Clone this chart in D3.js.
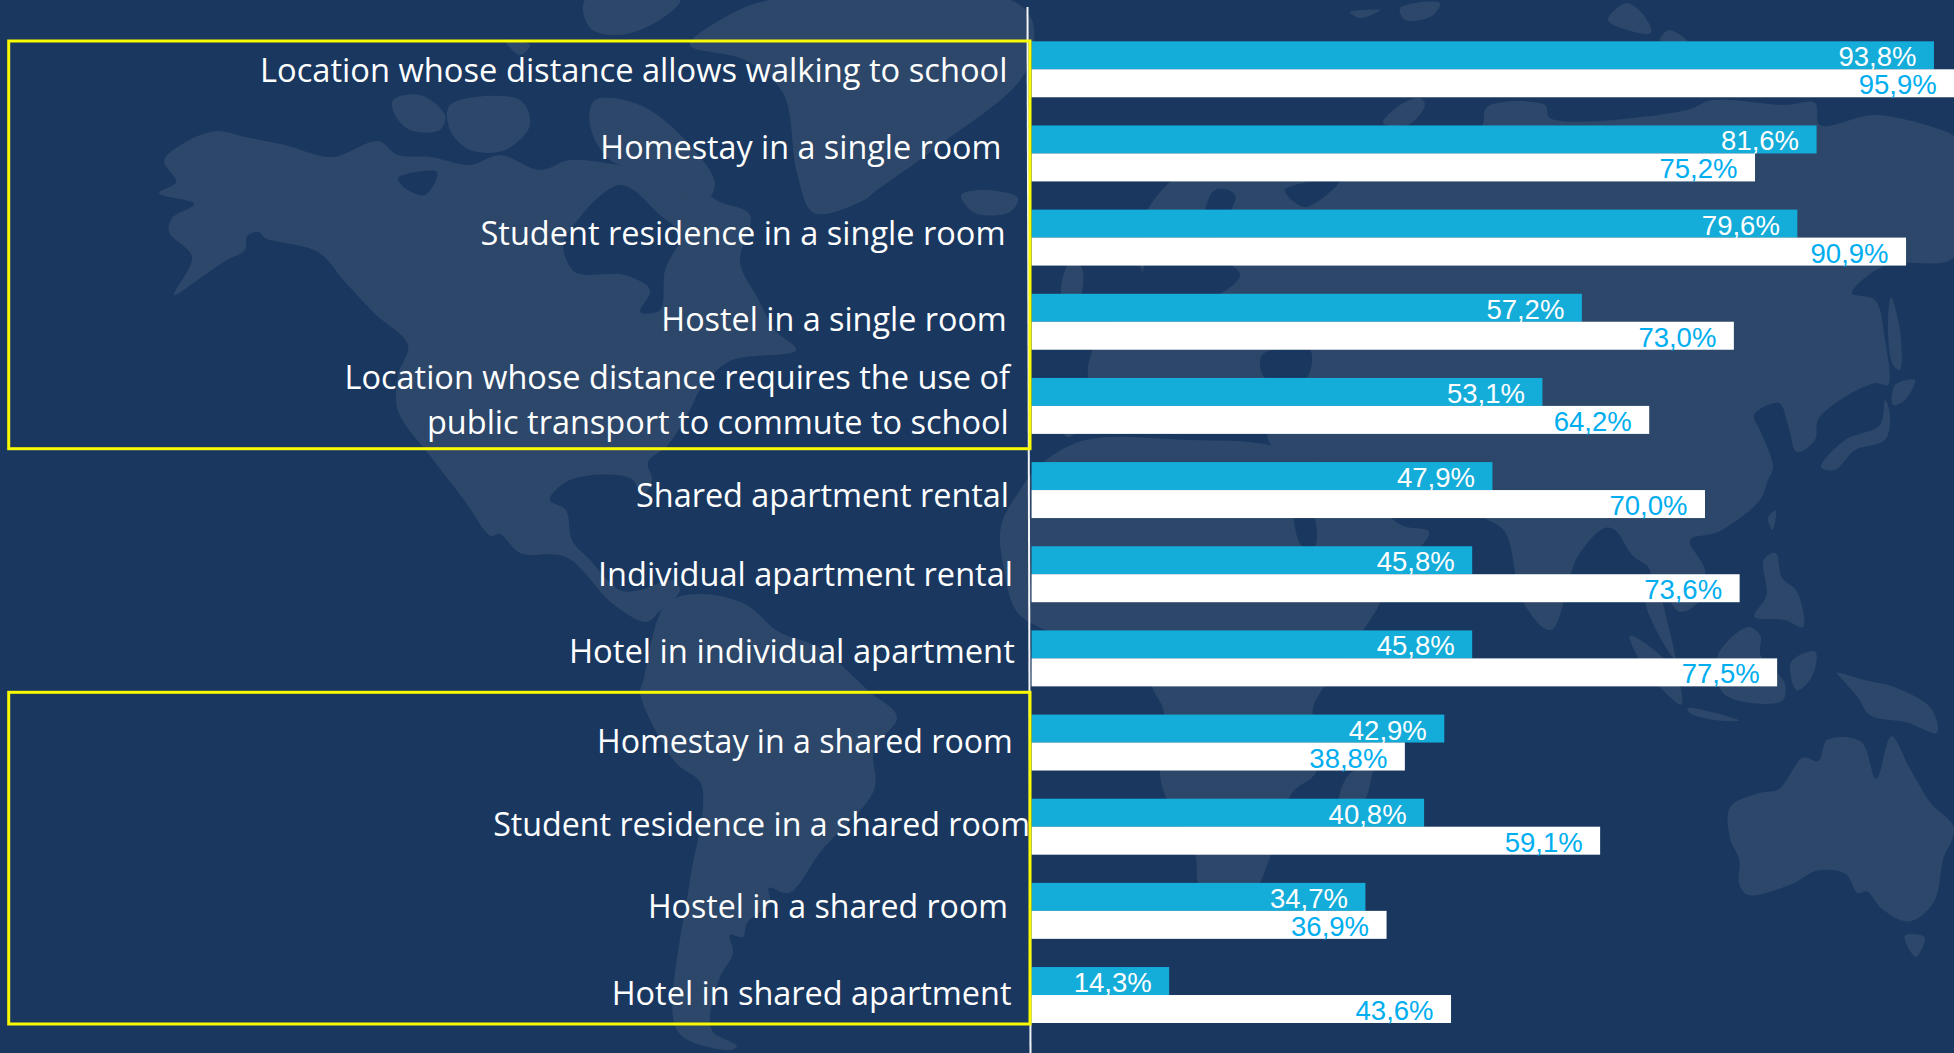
<!DOCTYPE html>
<html>
<head>
<meta charset="utf-8">
<script src="https://cdn.jsdelivr.net/npm/d3@7"></script>
<style>
  html, body { margin: 0; padding: 0; background: #19375f; overflow: hidden; }
  svg { display: block; }
</style>
</head>
<body>
<div id="chart"></div>
<script>
const categories = [
    "Location whose distance allows walking to school",
    "Homestay in a single room",
    "Student residence in a single room",
    "Hostel in a single room",
    "Location whose distance requires the use of\npublic transport to commute to school",
    "Shared apartment rental",
    "Individual apartment rental",
    "Hotel in individual apartment",
    "Homestay in a shared room",
    "Student residence in a shared room",
    "Hostel in a shared room",
    "Hotel in shared apartment"
];
const seriesBlue = [93.8, 81.6, 79.6, 57.2, 53.1, 47.9, 45.8, 45.8, 42.9, 40.8, 34.7, 14.3];
const seriesWhite = [95.9, 75.2, 90.9, 73.0, 64.2, 70.0, 73.6, 77.5, 38.8, 59.1, 36.9, 43.6];

// the labels were placed by hand in the original, so they don't sit on the band centres
// one entry per text line, the 5th category has two lines
const labelLeft = [261, 601.3, 481.5, 662.3, 345.5, 428, 637, 599, 569.9, 598, 494.2, 648.9, 612.7];
const labelRight = [1006.5, 1000.5, 1004.5, 1005.8, 1009, 1007.8, 1008, 1012, 1013.9, 1011.8, 1029, 1007, 1010.5];
const labelBaseline = [82, 159, 245, 331, 389, 434, 506.5, 586, 662.5, 752.5, 836, 918, 1005];

const width = 1954, height = 1053;
const bg = "#19375f", land = "#2c4769";

let svg = d3.select("#chart").append("svg")
    .attr("width", width)
    .attr("height", height);

svg.append("rect").attr("width", width).attr("height", height).attr("fill", bg);

/* BACKGROUND MAP (decoration) */

// crops of the reference that the outlines below were read from
const full = p => p;
const eastLow = p => [1000 + p[0] / 1.6436, 500 + p[1] / 2.835];

const landShapes = [
    // north and central america
    [full, [[174,295],[199,279],[225,261],[245,250],[247,236],[259,232],[265,238],[318,252],[345,282],[375,314],[408,345],[398,375],[398,411],[431,457],[464,500],[491,536],[500,534],[520,553],[566,557],[613,604],[646,622],[659,612],[680,590],[672,580],[640,590],[620,590],[590,560],[572,540],[566,510],[550,500],[570,480],[630,478],[643,495],[652,480],[648,462],[668,445],[690,410],[700,390],[730,361],[796,350],[775,330],[757,297],[740,262],[750,215],[716,200],[690,178],[660,170],[620,165],[570,160],[540,170],[500,155],[470,165],[431,157],[398,155],[378,141],[332,157],[285,145],[245,137],[216,131],[179,146],[164,161],[176,182],[159,193],[194,204],[172,218],[169,232],[192,257]]],
    // south america
    [full, [[666,604],[699,594],[745,604],[779,632],[818,647],[870,692],[897,717],[874,750],[874,790],[822,850],[789,893],[769,888],[770,903],[747,923],[743,937],[730,935],[733,953],[720,977],[710,1017],[713,1032],[737,1046],[730,1050],[683,1037],[673,1017],[690,880],[703,807],[700,782],[676,763],[640,693],[643,682]]],
    // greenland, iceland, arctic islands
    [full, [[770,0],[720,20],[690,45],[745,60],[783,93],[797,173],[814,213],[864,200],[877,190],[937,147],[1025,73],[1032,20],[1010,0]]],
    [full, [[961,195],[985,190],[1018,198],[1010,212],[975,213]]],
    [full, [[585,0],[680,0],[660,20],[620,35],[590,28]]],
    [full, [[505,40],[530,45],[520,55]]],
    [full, [[393,100],[420,95],[445,115],[440,130],[410,130],[395,115]]],
    [full, [[450,105],[520,100],[530,125],[505,150],[470,150],[450,130]]],
    [full, [[595,100],[640,105],[690,145],[715,185],[700,205],[660,175],[610,160],[590,125]]],
    // great britain
    [full, [[1062,295],[1070,262],[1082,268],[1078,300]]],
    // eurasia
    [full, [[1170,182],[1240,135],[1383,140],[1440,145],[1481,128],[1487,107],[1545,105],[1550,118],[1687,110],[1712,100],[1785,105],[1815,103],[1820,125],[1876,115],[1949,133],[1954,137],[1954,257],[1906,263],[1882,267],[1852,293],[1875,300],[1885,340],[1888,385],[1876,383],[1840,400],[1818,420],[1815,440],[1797,452],[1788,425],[1779,403],[1754,415],[1760,430],[1773,467],[1768,480],[1760,500],[1718,532],[1690,540],[1705,570],[1700,600],[1680,612],[1662,590],[1675,659],[1645,602],[1650,570],[1632,555],[1615,530],[1605,528],[1578,556],[1551,630],[1523,602],[1505,532],[1484,518],[1455,505],[1429,480],[1390,500],[1330,510],[1300,470],[1268,440],[1268,420],[1200,425],[1185,405],[1165,400],[1155,430],[1140,395],[1110,400],[1085,425],[1067,437],[1060,410],[1088,395],[1088,367],[1100,335],[1140,300],[1150,292],[1140,265],[1140,245],[1145,215]]],
    // africa
    [full, [[1040,465],[1020,490],[1001,526],[1004,570],[1017,612],[1045,630],[1100,648],[1145,650],[1152,687],[1164,712],[1161,782],[1195,853],[1198,883],[1215,925],[1250,900],[1271,855],[1292,793],[1316,772],[1313,708],[1322,690],[1377,609],[1389,581],[1429,532],[1401,525],[1340,470],[1270,445],[1190,440],[1085,440]]],
    [full, [[1378,745],[1372,775],[1365,800],[1345,825],[1338,810],[1345,780],[1360,765]]],
    // arctic russia
    [full, [[1383,123],[1400,105],[1420,98],[1425,105],[1408,125]]],
    [full, [[1608,20],[1627,3],[1645,17],[1651,33],[1627,30]]],
    [full, [[1669,30],[1688,42],[1660,40]]],
    [full, [[1350,12],[1380,10],[1360,18]]],
    [full, [[1400,8],[1440,3],[1432,16],[1405,20]]],
    // japan, sakhalin
    [full, [[1821,467],[1845,440],[1880,425],[1885,400],[1890,415],[1885,440],[1855,450],[1835,470]]],
    [full, [[1895,385],[1915,380],[1905,400],[1893,405]]],
    [full, [[1891,297],[1900,330],[1900,370],[1893,365],[1888,330]]],
    // south east asia
    [eastLow, [[1035,385],[1055,400],[1110,490],[1120,580],[1090,540],[1050,450]]],
    [eastLow, [[1130,590],[1215,625],[1180,625],[1135,605]]],
    [eastLow, [[1180,440],[1230,360],[1250,385],[1250,440],[1290,520],[1285,570],[1190,550]]],
    [eastLow, [[1300,460],[1340,430],[1335,500],[1310,540]]],
    [eastLow, [[1375,490],[1420,510],[1470,530],[1530,590],[1540,660],[1490,630],[1430,610],[1410,560],[1385,510]]],
    [eastLow, [[1255,170],[1275,150],[1285,220],[1310,260],[1320,360],[1290,340],[1240,330],[1260,270]]],
    [eastLow, [[1262,50],[1275,30],[1270,85]]],
    // australia, tasmania
    [eastLow, [[1200,870],[1250,830],[1280,820],[1320,730],[1345,740],[1360,680],[1415,685],[1440,790],[1465,670],[1495,760],[1530,860],[1568,930],[1550,1020],[1535,1140],[1495,1195],[1450,1160],[1425,1110],[1410,1115],[1390,1060],[1345,1050],[1300,1090],[1230,1120],[1215,1090],[1215,1020],[1200,960]]],
    [eastLow, [[1487,1235],[1520,1240],[1505,1295]]]
];

// water cut back out of the land
const waterShapes = [
    [full, [[570,230],[620,185],[660,215],[680,235],[665,270],[660,310],[640,312],[650,290],[625,275],[575,272],[563,245]]],  // hudson bay
    [full, [[398,178],[437,172],[425,195],[405,188]]],
    [full, [[1145,265],[1185,262],[1215,190],[1235,195],[1215,250],[1240,275],[1205,300],[1150,295]]],  // baltic
    [full, [[1285,190],[1340,180],[1305,207]]],  // white sea
    [full, [[1262,355],[1310,350],[1305,380],[1265,378]]],  // black sea
    [full, [[1295,505],[1310,505],[1315,546],[1302,546]]]  // red sea
];

let pathOf = d3.line().curve(d3.curveCatmullRomClosed.alpha(0.5));

svg.append("g").selectAll("path")
    .data(landShapes)
    .join("path")
    .attr("d", d => pathOf(d[1].map(d[0])))
    .attr("fill", land);

svg.append("g").selectAll("path")
    .data(waterShapes)
    .join("path")
    .attr("d", d => pathOf(d[1].map(d[0])))
    .attr("fill", bg);

/* BARS */

let x = d3.scaleLinear().domain([0, 100]).range([1031.6, 1993.6]);

let y = d3.scaleBand()
    .domain(categories)
    .range([41.3, 1023])
    .paddingInner(0.335);

let ySeries = d3.scaleBand()
    .domain(["blue", "white"])
    .range([0, y.bandwidth()]);

const seriesList = [
    { key: "blue", values: seriesBlue, fill: "#14acd9", text: "#ffffff" },
    { key: "white", values: seriesWhite, fill: "#ffffff", text: "#00aeef" }
];

seriesList.forEach(s => {
    let g = svg.append("g");

    g.selectAll("rect")
        .data(s.values)
        .join("rect")
        .attr("x", x(0))
        .attr("y", (d, i) => y(categories[i]) + ySeries(s.key))
        .attr("width", d => x(d) - x(0))
        .attr("height", ySeries.bandwidth())
        .attr("fill", s.fill);

    g.selectAll("text")
        .data(s.values)
        .join("text")
        .attr("x", d => x(d) - 17.5)
        .attr("y", (d, i) => y(categories[i]) + ySeries(s.key) + 25)
        .attr("text-anchor", "end")
        .attr("font-family", "'Liberation Sans', Arial, sans-serif")
        .attr("font-size", 27.5)
        .attr("fill", s.text)
        .text(d => d.toFixed(1).replace(".", ",") + "%");
});

/* AXIS LINE AND HIGHLIGHT BOXES */

svg.append("line")
    .attr("x1", 1027.5).attr("y1", 7)
    .attr("x2", 1030.5).attr("y2", height)
    .attr("stroke", "#f2f4f7")
    .attr("stroke-width", 2);

[[41, 448.7], [692.3, 1024]].forEach(b => {
    svg.append("rect")
        .attr("x", 8.7)
        .attr("y", b[0])
        .attr("width", 1030 - 8.7)
        .attr("height", b[1] - b[0])
        .attr("fill", "none")
        .attr("stroke", "#fafa00")
        .attr("stroke-width", 3);
});

/* CATEGORY LABELS */

let labels = svg.append("g")
    .attr("font-family", "'Open Sans', sans-serif")
    .attr("font-size", 32.5)
    .attr("fill", "#ffffff");

let labelLines = categories.flatMap(c => c.split("\n"));

labelLines.forEach((line, i) => {
    labels.append("text")
        .attr("x", labelLeft[i] - 1)
        .attr("y", labelBaseline[i])
        .attr("textLength", labelRight[i] - labelLeft[i] + 2)
        .attr("lengthAdjust", "spacingAndGlyphs")
        .text(line);
});
</script>
</body>
</html>
